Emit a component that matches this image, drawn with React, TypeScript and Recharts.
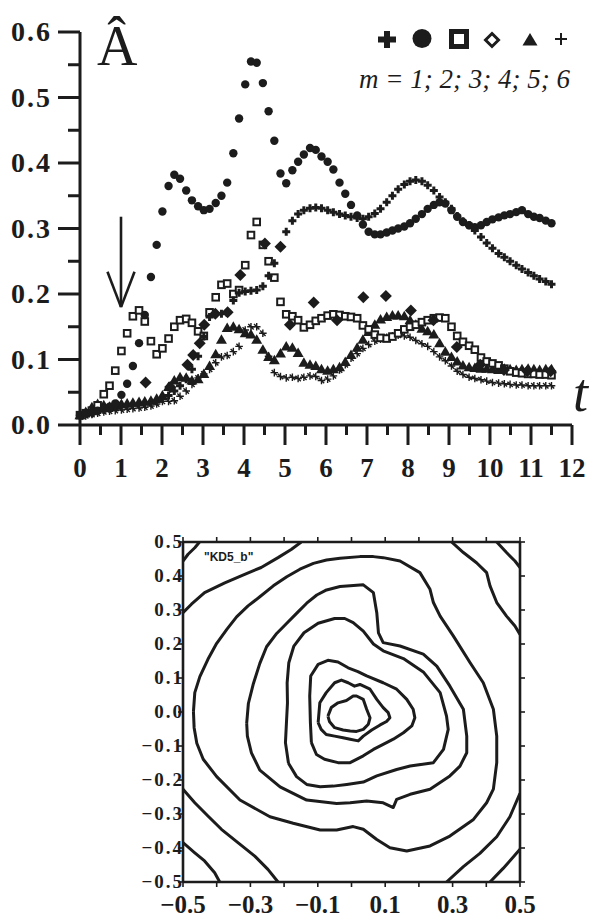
import React from 'react';
import { ScatterChart, Scatter, XAxis, YAxis, ReferenceLine } from 'recharts';

const INK = '#1c1c1c';
const SERIF = '"Liberation Serif", "Times New Roman", serif';

// ---- upper panel: amplitude vs time, m = 1..6 ----
const TIMES = [
  0, 0.14, 0.29, 0.43, 0.58, 0.72, 0.86, 1.01, 1.15, 1.29,
  1.44, 1.58, 1.73, 1.87, 2.01, 2.16, 2.3, 2.44, 2.59, 2.73,
  2.88, 3.02, 3.16, 3.31, 3.45, 3.59, 3.74, 3.88, 4.03, 4.17,
  4.31, 4.46, 4.6, 4.74, 4.89, 5.03, 5.18, 5.32, 5.46, 5.61,
  5.75, 5.89, 6.04, 6.18, 6.33, 6.47, 6.61, 6.76, 6.9, 7.04,
  7.19, 7.33, 7.48, 7.62, 7.76, 7.91, 8.05, 8.19, 8.34, 8.48,
  8.63, 8.77, 8.91, 9.06, 9.2, 9.34, 9.49, 9.63, 9.78, 9.92,
  10.06, 10.21, 10.35, 10.49, 10.64, 10.78, 10.93, 11.07, 11.21, 11.36,
  11.5,
];

const AMP_M1 = [
  0.015, 0.017, 0.019, 0.021, 0.023, 0.025, 0.027, 0.028, 0.029, 0.03,
  0.031, 0.032, 0.034, 0.036, 0.04, 0.045, 0.052, 0.06, 0.07, 0.085,
  0.105, 0.135, 0.165, 0.17, 0.17, 0.171, 0.19, 0.202, 0.204, 0.205,
  0.206, 0.212, 0.228, 0.247, 0.272, 0.295, 0.312, 0.322, 0.328, 0.331,
  0.332, 0.331, 0.328, 0.325, 0.322, 0.32, 0.318, 0.316, 0.315, 0.318,
  0.323, 0.33, 0.34, 0.35, 0.36, 0.367, 0.372, 0.374, 0.372, 0.366,
  0.358, 0.348, 0.34, 0.33, 0.319, 0.311, 0.305, 0.297, 0.287, 0.278,
  0.27, 0.262, 0.256, 0.25, 0.244, 0.238, 0.233, 0.228, 0.223, 0.219,
  0.215,
];

const AMP_M2 = [
  0.015, 0.018, 0.02, 0.022, 0.025, 0.028, 0.033, 0.046, 0.063, 0.09,
  0.125, 0.168, 0.226, 0.275, 0.326, 0.365, 0.382, 0.376, 0.358, 0.343,
  0.334, 0.328, 0.33, 0.339, 0.35, 0.37, 0.415, 0.468, 0.52, 0.555,
  0.553, 0.522, 0.479, 0.434, 0.384, 0.369, 0.389, 0.402, 0.413, 0.423,
  0.42, 0.41, 0.402, 0.39, 0.37, 0.353, 0.336, 0.32, 0.306, 0.295,
  0.291, 0.291, 0.294, 0.297, 0.3, 0.303, 0.308, 0.315, 0.322, 0.33,
  0.336, 0.34, 0.338, 0.328, 0.318, 0.31, 0.305, 0.302, 0.305, 0.31,
  0.314, 0.317, 0.32, 0.322, 0.325, 0.328, 0.322, 0.318, 0.316, 0.312,
  0.308,
];

const AMP_M3 = [
  0.015, 0.018, 0.022, 0.03, 0.047, 0.06, 0.083, 0.113, 0.14, 0.166,
  0.175, 0.158, 0.128, 0.108, 0.117, 0.132, 0.15, 0.16, 0.162, 0.156,
  0.143, 0.136, 0.172, 0.195, 0.214, 0.216, 0.2, 0.206, 0.244, 0.29,
  0.31, 0.275, 0.25, 0.225, 0.188, 0.169, 0.166, 0.16, 0.149, 0.153,
  0.159, 0.163, 0.167, 0.169, 0.168, 0.166, 0.165, 0.163, 0.152, 0.146,
  0.138, 0.133, 0.132, 0.135, 0.14, 0.146, 0.15, 0.153, 0.157, 0.16,
  0.163, 0.164, 0.163, 0.15, 0.136, 0.127, 0.121, 0.115, 0.103, 0.097,
  0.094, 0.091, 0.086, 0.082, 0.08, 0.079, 0.078, 0.078, 0.077, 0.077,
  0.076,
];

const DIAMOND_TIMES = [
  0.3, 0.9, 1.6, 2.2, 2.62, 2.76, 2.92, 3.03, 3.3, 3.6, 3.91, 4.51, 4.89,
  5.12, 5.7, 6.27, 6.91, 7.46, 8.07, 8.62, 9.19, 9.76, 10.34, 10.91, 11.48,
];
const AMP_M4 = [
  0.02, 0.03, 0.065, 0.058, 0.092, 0.107, 0.125, 0.153, 0.17, 0.172, 0.229, 0.277, 0.272,
  0.153, 0.187, 0.16, 0.195, 0.197, 0.175, 0.16, 0.119, 0.092, 0.084, 0.082, 0.082,
];

const AMP_M5 = [
  0.015, 0.02, 0.027, 0.032, 0.03, 0.028, 0.03, 0.032, 0.033, 0.034,
  0.035, 0.036, 0.037, 0.04, 0.045, 0.058, 0.068, 0.073, 0.072, 0.068,
  0.07, 0.078, 0.09, 0.108, 0.13, 0.148, 0.15, 0.146, 0.14, 0.138,
  0.13, 0.115, 0.104, 0.099, 0.109, 0.12, 0.118, 0.11, 0.095, 0.092,
  0.09, 0.085, 0.083, 0.085, 0.088, 0.096, 0.107, 0.118, 0.13, 0.142,
  0.153, 0.161, 0.165, 0.167, 0.167, 0.166, 0.16, 0.153, 0.147, 0.143,
  0.138, 0.125, 0.112, 0.104, 0.097, 0.091, 0.088, 0.087, 0.086, 0.086,
  0.085, 0.084, 0.086, 0.085, 0.084, 0.085, 0.086, 0.085, 0.084, 0.085,
  0.085,
];

const AMP_M6 = [
  0.012, 0.014, 0.016, 0.018, 0.02, 0.021, 0.022, 0.023, 0.024, 0.025,
  0.026, 0.027, 0.029, 0.032, 0.036, 0.036, 0.037, 0.044, 0.052, 0.062,
  0.072, 0.078, 0.085, 0.095, 0.104, 0.106, 0.112, 0.12, 0.145, 0.15,
  0.15, 0.14, 0.105, 0.08, 0.074, 0.072, 0.073, 0.071, 0.073, 0.075,
  0.074, 0.068, 0.07, 0.075, 0.084, 0.092, 0.102, 0.109, 0.117, 0.123,
  0.128, 0.131, 0.134, 0.136, 0.137, 0.136, 0.134, 0.129, 0.124, 0.12,
  0.112, 0.104, 0.098, 0.09, 0.082, 0.077, 0.073, 0.071, 0.069, 0.067,
  0.065, 0.064, 0.063, 0.062, 0.061, 0.061, 0.06, 0.06, 0.06, 0.06,
  0.06,
];

const TIME_TICKS = [
  0, 0.5, 1, 1.5, 2, 2.5, 3, 3.5, 4, 4.5, 5, 5.5, 6, 6.5, 7, 7.5, 8, 8.5, 9, 9.5,
  10, 10.5, 11, 11.5, 12,
];
const AMP_TICKS = [0, 0.05, 0.1, 0.15, 0.2, 0.25, 0.3, 0.35, 0.4, 0.45, 0.5, 0.55, 0.6];

const ARROW_T = 1;
const ARROW_FROM = 0.318;
const ARROW_TIP = 0.18;
const ARROW_HEAD = 0.234;
const ARROW_HALF = 0.33;

const LEGEND_TEXT = 'm = 1; 2; 3; 4; 5; 6';

// ---- lower panel: contour lines of "KD5_b" ----
type Pt = [number, number];

const RING_1: Pt[] = [
  [-0.07, -0.012], [-0.06, 0.013], [-0.04, 0.027], [-0.015, 0.034], [0.005, 0.047], [0.015, 0.047],
  [0.035, 0.037], [0.045, 0.008], [0.055, -0.017], [0.05, -0.036], [0.035, -0.051], [0.015, -0.057],
  [-0.004, -0.056], [-0.025, -0.053], [-0.05, -0.046], [-0.065, -0.029],
];
const RING_2: Pt[] = [
  [-0.099, -0.031], [-0.094, 0.027], [-0.075, 0.057], [-0.05, 0.086], [-0.03, 0.094], [-0.01, 0.086],
  [0.009, 0.076], [0.025, 0.081], [0.055, 0.067], [0.075, 0.037], [0.094, 0.013], [0.109, -0.002],
  [0.114, -0.017], [0.104, -0.028], [0.085, -0.038], [0.06, -0.053], [0.035, -0.071], [0.02, -0.085],
  [-0.004, -0.08], [-0.025, -0.076], [-0.05, -0.071], [-0.075, -0.066], [-0.09, -0.051],
];
const RING_3: Pt[] = [
  [-0.119, -0.09], [-0.122, -0.031], [-0.124, 0.047], [-0.121, 0.106], [-0.099, 0.14], [-0.07, 0.152],
  [-0.04, 0.147], [-0.01, 0.13], [0.019, 0.119], [0.045, 0.106], [0.094, 0.086], [0.134, 0.067],
  [0.164, 0.037], [0.183, 0.008], [0.188, -0.017], [0.179, -0.041], [0.154, -0.061], [0.124, -0.08],
  [0.094, -0.095], [0.065, -0.11], [0.035, -0.129], [-0.004, -0.149], [-0.04, -0.149], [-0.08, -0.139],
  [-0.104, -0.125],
];
const RING_4: Pt[] = [
  [-0.187, -0.151], [-0.196, -0.09], [-0.193, -0.031], [-0.19, 0.027], [-0.191, 0.086], [-0.186, 0.145],
  [-0.171, 0.194], [-0.141, 0.233], [-0.099, 0.261], [-0.05, 0.275], [-0.02, 0.275], [0.005, 0.263],
  [0.035, 0.238], [0.065, 0.2], [0.094, 0.18], [0.154, 0.157], [0.213, 0.118], [0.263, 0.057],
  [0.282, -0.012], [0.287, -0.051], [0.273, -0.11], [0.243, -0.149], [0.174, -0.159], [0.134, -0.169],
  [0.075, -0.188], [0.035, -0.206], [-0.014, -0.213], [-0.054, -0.218], [-0.093, -0.22], [-0.133, -0.213],
  [-0.163, -0.19],
];
const RING_5: Pt[] = [
  [-0.311, -0.033], [-0.306, 0.025], [-0.291, 0.084], [-0.272, 0.143], [-0.252, 0.192], [-0.222, 0.231],
  [-0.192, 0.261], [-0.163, 0.29], [-0.133, 0.32], [-0.103, 0.344], [-0.074, 0.359], [-0.034, 0.369],
  [-0.004, 0.371], [0.035, 0.374], [0.065, 0.351], [0.075, 0.292], [0.08, 0.233], [0.094, 0.204],
  [0.144, 0.194], [0.213, 0.17], [0.253, 0.135], [0.292, 0.076], [0.332, 0.008], [0.342, -0.071],
  [0.342, -0.12], [0.322, -0.159], [0.292, -0.188], [0.233, -0.227], [0.174, -0.242], [0.134, -0.257],
  [0.124, -0.281], [0.094, -0.267], [0.045, -0.262], [-0.004, -0.267], [-0.044, -0.269], [-0.133, -0.259],
  [-0.212, -0.22], [-0.272, -0.171], [-0.297, -0.12], [-0.309, -0.071],
];
const RING_6: Pt[] = [
  [-0.469, 0.001], [-0.465, 0.057], [-0.45, 0.104], [-0.426, 0.155], [-0.4, 0.202], [-0.37, 0.243],
  [-0.341, 0.28], [-0.307, 0.312], [-0.272, 0.339], [-0.232, 0.371], [-0.192, 0.398], [-0.153, 0.42],
  [-0.113, 0.437], [-0.074, 0.447], [-0.034, 0.452], [0.025, 0.457], [0.065, 0.457], [0.094, 0.454],
  [0.144, 0.444], [0.203, 0.41], [0.233, 0.361], [0.243, 0.322], [0.263, 0.282], [0.302, 0.224],
  [0.352, 0.145], [0.391, 0.086], [0.421, 0.008], [0.431, -0.071], [0.431, -0.149], [0.421, -0.227],
  [0.401, -0.267], [0.362, -0.316], [0.292, -0.365], [0.233, -0.394], [0.164, -0.409], [0.114, -0.399],
  [0.075, -0.375], [0.035, -0.345], [0.005, -0.337], [-0.044, -0.347], [-0.093, -0.347], [-0.173, -0.327],
  [-0.242, -0.308], [-0.331, -0.259], [-0.4, -0.19], [-0.44, -0.139], [-0.459, -0.092], [-0.467, -0.046],
];

const EDGE_TOP_LEFT: Pt[] = [
  [-0.5, 0.292], [-0.475, 0.317], [-0.436, 0.351], [-0.376, 0.38], [-0.317, 0.405], [-0.268, 0.425],
  [-0.218, 0.454], [-0.179, 0.478], [-0.149, 0.5],
];
const CORNER_TOP_LEFT: Pt[] = [[-0.5, 0.444], [-0.485, 0.464], [-0.465, 0.483], [-0.451, 0.5]];
const EDGE_TOP_RIGHT: Pt[] = [
  [0.297, 0.5], [0.332, 0.469], [0.371, 0.439], [0.401, 0.41], [0.411, 0.371], [0.431, 0.322],
  [0.46, 0.282], [0.485, 0.253], [0.5, 0.228],
];
const CORNER_TOP_RIGHT: Pt[] = [[0.431, 0.5], [0.46, 0.469], [0.485, 0.444], [0.5, 0.425]];
const EDGE_BOTTOM_RIGHT: Pt[] = [
  [0.282, -0.5], [0.332, -0.455], [0.381, -0.416], [0.431, -0.367], [0.47, -0.308], [0.5, -0.239],
];
const CORNER_BOTTOM_RIGHT: Pt[] = [[0.411, -0.5], [0.45, -0.46], [0.5, -0.404]];
const EDGE_BOTTOM_LEFT: Pt[] = [
  [-0.5, -0.227], [-0.465, -0.267], [-0.426, -0.306], [-0.386, -0.345], [-0.337, -0.384],
  [-0.287, -0.424], [-0.248, -0.463], [-0.218, -0.5],
];
const CORNER_BOTTOM_LEFT: Pt[] = [
  [-0.5, -0.384], [-0.465, -0.414], [-0.436, -0.438], [-0.406, -0.473], [-0.391, -0.5],
];

const PLANE_TICKS = [-0.5, -0.4, -0.3, -0.2, -0.1, 0, 0.1, 0.2, 0.3, 0.4, 0.5];
const PLANE_X_LABELS = [-0.5, -0.3, -0.1, 0.1, 0.3, 0.5];
const PLANE_TAG = '"KD5_b"';

// ---- helpers ----
const toSeries = (times: number[], amps: number[]) => times.map((t, i) => ({ t, a: amps[i] }));
const openPath = (pts: Pt[]) => pts.map(([x, y]) => ({ x, y }));
const closedPath = (pts: Pt[]) => openPath([...pts, pts[0]]);

const fmt = (v: number) => {
  const s = Math.abs(v).toFixed(1);
  return v < -1e-9 ? `\u2212${s}` : s;
};

// ---- marker shapes ----
const BoldPlus = ({ cx, cy }: any) => (
  <path d={`M${cx - 4},${cy}H${cx + 4}M${cx},${cy - 4}V${cy + 4}`} stroke={INK} strokeWidth={3} />
);
const Dot = ({ cx, cy }: any) => <circle cx={cx} cy={cy} r={4.2} fill={INK} />;
const OpenSquare = ({ cx, cy }: any) => (
  <rect x={cx - 3.3} y={cy - 3.3} width={6.6} height={6.6} fill="#fff" stroke={INK} strokeWidth={2} />
);
const Diamond = ({ cx, cy }: any) => (
  <path d={`M${cx},${cy - 6}L${cx + 6},${cy}L${cx},${cy + 6}L${cx - 6},${cy}Z`} fill={INK} />
);
const Triangle = ({ cx, cy }: any) => (
  <path d={`M${cx},${cy - 5.5}L${cx + 5.5},${cy + 4}L${cx - 5.5},${cy + 4}Z`} fill={INK} />
);
const ThinPlus = ({ cx, cy }: any) => (
  <path
    d={`M${cx - 3.8},${cy}H${cx + 3.8}M${cx},${cy - 3.8}V${cy + 3.8}M${cx - 2.7},${cy - 2.7}L${cx + 2.7},${cy + 2.7}`}
    stroke={INK}
    strokeWidth={1.4}
  />
);
const NoMark = () => <g />;

// ---- axis ticks ----
const TimeTick = ({ x, y, payload }: any) => {
  const v = payload.value as number;
  const major = Math.abs(v - Math.round(v)) < 1e-6;
  return (
    <g>
      <line x1={x} x2={x} y1={y} y2={y + (major ? 20 : 10)} stroke={INK} strokeWidth={3} />
      {major && (
        <text x={x} y={y + 52} textAnchor="middle" fontFamily={SERIF} fontWeight="bold" fontSize={27} fill={INK}>
          {v}
        </text>
      )}
    </g>
  );
};

const AmpTick = ({ x, y, payload }: any) => {
  const v = payload.value as number;
  const major = Math.round(v * 20) % 2 === 0;
  return (
    <g>
      <line x1={x - (major ? 22 : 12)} x2={x} y1={y} y2={y} stroke={INK} strokeWidth={3} />
      {major && (
        <text x={x - 28} y={y + 9} textAnchor="end" fontFamily={SERIF} fontWeight="bold" fontSize={28} letterSpacing={2} fill={INK}>
          {v.toFixed(1)}
        </text>
      )}
    </g>
  );
};

const PlaneBottomTick = ({ x, y, payload }: any) => {
  const v = payload.value as number;
  const show = PLANE_X_LABELS.some((l) => Math.abs(l - v) < 1e-6);
  return (
    <g>
      <line x1={x} x2={x} y1={y} y2={y + 5} stroke={INK} strokeWidth={1.6} />
      {show && (
        <text x={x} y={y + 31} textAnchor="middle" fontFamily={SERIF} fontWeight="bold" fontSize={25} fill={INK}>
          {fmt(v)}
        </text>
      )}
    </g>
  );
};

const PlaneLeftTick = ({ x, y, payload }: any) => (
  <g>
    <line x1={x - 5} x2={x} y1={y} y2={y} stroke={INK} strokeWidth={1.6} />
    <text x={x + 1} y={y + 6} textAnchor="end" fontFamily={SERIF} fontWeight="bold" fontSize={19} letterSpacing={2} fill={INK}>
      {fmt(payload.value)}
    </text>
  </g>
);

const PlaneTopTick = ({ x, y }: any) => <line x1={x} x2={x} y1={y} y2={y - 5} stroke={INK} strokeWidth={1.6} />;
const PlaneRightTick = ({ x, y }: any) => <line x1={x} x2={x + 5} y1={y} y2={y} stroke={INK} strokeWidth={1.6} />;

const contourLine = { stroke: INK, strokeWidth: 3, strokeLinejoin: 'round' as const, fill: 'none' };

export default function App() {
  const rings = [RING_1, RING_2, RING_3, RING_4, RING_5, RING_6].map(closedPath);
  const edges = [
    EDGE_TOP_LEFT, CORNER_TOP_LEFT, EDGE_TOP_RIGHT, CORNER_TOP_RIGHT,
    EDGE_BOTTOM_RIGHT, CORNER_BOTTOM_RIGHT, EDGE_BOTTOM_LEFT, CORNER_BOTTOM_LEFT,
  ].map(openPath);

  return (
    <div style={{ position: 'absolute', left: 0, top: 0, width: 590, height: 919, background: '#fff' }}>
      <div style={{ position: 'absolute', left: 0, top: 0 }}>
        <ScatterChart width={590} height={490} margin={{ top: 32, right: 18, bottom: 0, left: 0 }}>
          <XAxis
            type="number"
            dataKey="t"
            domain={[0, 12]}
            ticks={TIME_TICKS}
            interval={0}
            tickSize={0}
            tickMargin={0}
            tick={TimeTick}
            axisLine={{ stroke: INK, strokeWidth: 3 }}
            height={65}
          />
          <YAxis
            type="number"
            dataKey="a"
            domain={[0, 0.6]}
            ticks={AMP_TICKS}
            interval={0}
            tickSize={0}
            tickMargin={0}
            tick={AmpTick}
            axisLine={{ stroke: INK, strokeWidth: 3 }}
            width={80}
          />
          <Scatter data={toSeries(TIMES, AMP_M6)} shape={ThinPlus} isAnimationActive={false} />
          <Scatter data={toSeries(TIMES, AMP_M5)} shape={Triangle} isAnimationActive={false} />
          <Scatter data={toSeries(TIMES, AMP_M3)} shape={OpenSquare} isAnimationActive={false} />
          <Scatter data={toSeries(DIAMOND_TIMES, AMP_M4)} shape={Diamond} isAnimationActive={false} />
          <Scatter data={toSeries(TIMES, AMP_M1)} shape={BoldPlus} isAnimationActive={false} />
          <Scatter data={toSeries(TIMES, AMP_M2)} shape={Dot} isAnimationActive={false} />
          <ReferenceLine segment={[{ x: ARROW_T, y: ARROW_FROM }, { x: ARROW_T, y: ARROW_TIP }]} stroke={INK} strokeWidth={2.6} />
          <ReferenceLine segment={[{ x: ARROW_T - ARROW_HALF, y: ARROW_HEAD }, { x: ARROW_T, y: ARROW_TIP }]} stroke={INK} strokeWidth={2.6} />
          <ReferenceLine segment={[{ x: ARROW_T + ARROW_HALF, y: ARROW_HEAD }, { x: ARROW_T, y: ARROW_TIP }]} stroke={INK} strokeWidth={2.6} />
        </ScatterChart>
      </div>

      <div style={{ position: 'absolute', left: 0, top: 490 }}>
        <ScatterChart width={590} height={429} margin={{ top: 32, right: 40, bottom: 0, left: 0 }}>
          <XAxis
            type="number"
            dataKey="x"
            domain={[-0.5, 0.5]}
            ticks={PLANE_TICKS}
            interval={0}
            tickSize={0}
            tickMargin={0}
            tick={PlaneBottomTick}
            axisLine={{ stroke: INK, strokeWidth: 2.6 }}
            height={37}
            allowDataOverflow
          />
          <XAxis
            xAxisId="top"
            orientation="top"
            type="number"
            dataKey="x"
            domain={[-0.5, 0.5]}
            ticks={PLANE_TICKS}
            interval={0}
            tickSize={0}
            tickMargin={0}
            tick={PlaneTopTick}
            axisLine={{ stroke: INK, strokeWidth: 2.6 }}
            height={20}
            allowDataOverflow
          />
          <YAxis
            type="number"
            dataKey="y"
            domain={[-0.5, 0.5]}
            ticks={PLANE_TICKS}
            interval={0}
            tickSize={0}
            tickMargin={0}
            tick={PlaneLeftTick}
            axisLine={{ stroke: INK, strokeWidth: 2.6 }}
            width={183}
            allowDataOverflow
          />
          <YAxis
            yAxisId="right"
            orientation="right"
            type="number"
            dataKey="y"
            domain={[-0.5, 0.5]}
            ticks={PLANE_TICKS}
            interval={0}
            tickSize={0}
            tickMargin={0}
            tick={PlaneRightTick}
            axisLine={{ stroke: INK, strokeWidth: 2.6 }}
            width={30}
            allowDataOverflow
          />
          {rings.map((d, i) => (
            <Scatter key={`ring-${i}`} data={d} line={contourLine} lineJointType="linear" shape={NoMark} isAnimationActive={false} />
          ))}
          {edges.map((d, i) => (
            <Scatter key={`edge-${i}`} data={d} line={contourLine} lineJointType="linear" shape={NoMark} isAnimationActive={false} />
          ))}
          <Scatter xAxisId="top" yAxisId="right" data={[]} shape={NoMark} isAnimationActive={false} />
        </ScatterChart>
      </div>

      <svg width={590} height={919} style={{ position: 'absolute', left: 0, top: 0, pointerEvents: 'none' }}>
        <text x={97} y={65} fontFamily={SERIF} fontSize={56} fill={INK}>
          Â
        </text>
        <text x={573} y={411} fontFamily={SERIF} fontStyle="italic" fontSize={54} fill={INK}>
          t
        </text>
        <path d="M378,39.5H396M387,31V48" stroke={INK} strokeWidth={6} />
        <circle cx={422} cy={38.5} r={9.5} fill={INK} />
        <rect x={451.5} y={31.5} width={15} height={15} fill="#fff" stroke={INK} strokeWidth={5} />
        <path d="M492,33.5L498.5,40L492,46.5L485.5,40Z" fill="#fff" stroke={INK} strokeWidth={3} />
        <path d="M530,33L537.5,45.5L522.5,45.5Z" fill={INK} />
        <path d="M555,39H567M561,33V45" stroke={INK} strokeWidth={2} />
        <text x={570} y={88} textAnchor="end" fontFamily={SERIF} fontStyle="italic" fontSize={27} fill={INK}>
          {LEGEND_TEXT}
        </text>
        <text x={204} y={561} fontFamily='"Liberation Sans", Arial, sans-serif' fontWeight="bold" fontSize={12} fill={INK}>
          {PLANE_TAG}
        </text>
      </svg>
    </div>
  );
}
